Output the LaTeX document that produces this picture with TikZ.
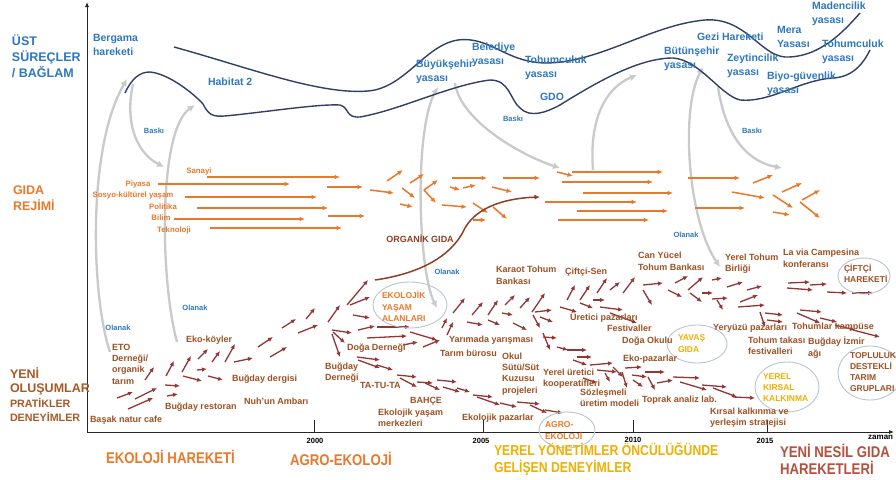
\documentclass[tikz,border=0pt]{standalone}
\usepackage{fontspec}
\setmainfont{Liberation Sans}
\newfontfamily\narrowf[FakeStretch=0.85]{Liberation Sans}
\usetikzlibrary{arrows.meta}
\definecolor{blueT}{HTML}{2E78BE}
\definecolor{navy}{HTML}{2F3F66}
\definecolor{orangeA}{HTML}{E9782B}
\definecolor{brownT}{HTML}{9E5124}
\definecolor{brownL}{HTML}{A85A26}
\definecolor{redA}{HTML}{943634}
\definecolor{goldT}{HTML}{F0B000}
\definecolor{greyA}{HTML}{CACACA}
\definecolor{ellC}{HTML}{B9C5CF}
\definecolor{newgen}{HTML}{B5503C}
\definecolor{orgT}{HTML}{8E3F26}
\begin{document}
\begin{tikzpicture}[x=1pt,y=-1pt,
  lbl/.style={inner sep=0pt,outer sep=0pt,align=left,anchor=west},
  toplbl/.style={lbl,text=blueT,font=\bfseries\fontsize{10.5}{14}\selectfont},
  side/.style={lbl,font=\bfseries\fontsize{12.5}{16}\selectfont},
  hint/.style={inner sep=0pt,text=blueT,font=\bfseries\fontsize{7.5}{9}\selectfont},
  regl/.style={inner sep=0pt,text=orangeA,font=\bfseries\fontsize{7.8}{9}\selectfont},
  pract/.style={lbl,text=brownT,font=\bfseries\fontsize{9}{11.3}\selectfont},
  cloud/.style={lbl,font=\bfseries\fontsize{8.5}{11.2}\selectfont},
  era/.style={lbl,font=\narrowf\bfseries\fontsize{15.5}{17}\selectfont},
  yr/.style={inner sep=0pt,font=\bfseries\fontsize{7.5}{8}\selectfont},
  rarr/.style={draw=redA,line width=1.3pt,-{Latex[length=5pt,width=4.5pt]}},
  oarr/.style={draw=orangeA,line width=1.5pt,-{Latex[length=5.5pt,width=4.8pt]}},
  garr/.style={draw=greyA,line width=2.3pt,-{Latex[length=7pt,width=7pt]}},
  garrb/.style={draw=greyA,line width=2.3pt,{Latex[length=7pt,width=7pt]}-{Latex[length=7pt,width=7pt]}},
  wave/.style={draw=navy,line width=1.4pt},
  ring/.style={draw=ellC,line width=0.9pt},
  axis/.style={draw=black!85,line width=0.8pt},
]
\useasboundingbox (0,0) rectangle (896,479);
\fill[white] (0,0) rectangle (896,479);

% ---------- grey influence arrows ----------
\draw[garr] (110,352) .. controls (92,300) and (86,150) .. (127,79);
\draw[garr] (133,84) .. controls (125,120) and (135,152) .. (164,167);
\draw[garr] (177,342) .. controls (160,280) and (158,130) .. (195,105);
\draw[garrb] (437,308) .. controls (418,270) and (414,130) .. (438,87);
\draw[garr] (455,83) .. controls (460,120) and (520,155) .. (560,168);
\draw[garr] (593,170) .. controls (589,120) and (605,88) .. (637,75);
\draw[garrb] (720,267) .. controls (688,220) and (680,110) .. (703,67);
\draw[garr] (718,87) .. controls (726,140) and (750,162) .. (782,168);

% ---------- axes ----------
\coordinate (origin) at (87,432);
\coordinate (ytop) at (87,2);
\coordinate (xend) at (894,432);
\draw[axis,-{Latex[length=5pt,width=4pt]}] (origin) -- (ytop);
\draw[axis,-{Latex[length=5pt,width=4pt]}] (origin) -- (xend);
\foreach \x in {314,483,633,767}{
  \draw[axis,line width=0.6pt] (\x,420) -- (\x,432);
}
\node[yr] (y2000) at (315,441) {2000};
\node[yr] (y2005) at (481,441) {2005};
\node[yr] (y2010) at (633,439.5) {2010};
\node[yr] (y2015) at (765,441) {2015};
\node[yr,anchor=west,font=\bfseries\fontsize{8}{9}\selectfont] (zaman) at (868,437) {zaman};

% ---------- upper context waves ----------
\draw[wave] (174,47) .. controls (250,68) and (320,95) .. (368,91)
  .. controls (405,88) and (425,45) .. (458,40)
  .. controls (490,36) and (505,62) .. (545,63)
  .. controls (600,63) and (650,25) .. (705,20)
  .. controls (745,17) and (760,55) .. (785,57)
  .. controls (820,58) and (845,30) .. (860,13);
\draw[wave] (125,93) .. controls (132,78) and (140,72) .. (150,72)
  .. controls (170,74) and (195,95) .. (203,104)
  .. controls (210,118) and (215,117) .. (235,115)
  .. controls (280,110) and (320,104) .. (340,105)
  .. controls (350,108) and (345,118) .. (360,117)
  .. controls (400,110) and (450,85) .. (490,80)
  .. controls (510,80) and (510,100) .. (520,108)
  .. controls (530,118) and (545,113) .. (560,105)
  .. controls (600,80) and (640,58) .. (673,58)
  .. controls (700,60) and (720,95) .. (740,100)
  .. controls (770,103) and (800,80) .. (833,78)
  .. controls (855,77) and (865,60) .. (870,50);

% ---------- food regime arrows ----------
\foreach \a/\b/\c/\d in {207/177/340/177,158/184/290/184,185/197/317/197,197/208/328/208,
  174/219/305/219,210/228/342/228,327/187/363/187,328/216/365/216,370/190/394/193,
  387/181/403/170,410/183/424/174,402/188/415/198,400/204/413/207,424/190/438/180,
  424/190/436/203,442/205/467/207,452/178/487/178,503/178/540/178,450/187/460/190,
  463/188/476/185,492/187/512/192,473/203/488/213,493/207/507/219,473/220/486/220,
  557/172/573/176,572/172/663/172,562/182/653/182,583/193/673/193,545/202/637/202,
  577/211/668/211,558/220/649/220,688/178/740/178,732/192/765/198,695/208/745/208,
  753/183/773/175,782/192/802/183,773/195/793/208,802/200/820/190,800/202/820/218,
  773/212/790/215}{
  \draw[oarr] (\a,\b) -- (\c,\d);
}

% ---------- organic food curve ----------
\draw[draw=orgT,line width=1.5pt,-{Latex[length=5.5pt,width=5pt]}] (375,280)
  .. controls (430,272) and (455,250) .. (465,228)
  .. controls (478,205) and (510,198) .. (540,197);

% ---------- new practices arrows ----------
\foreach \a/\b/\c/\d in {117/398/133/392,135/399/157/388,128/409/153/398,145/380/154/367,
  165/385/180/386,167/396/178/394,166/376/174/361,182/372/191/356,183/376/202/381,
  197/370/207/369,198/359/208/349,212/362/220/351,225/362/235/344,208/376/223/380,
  234/362/253/358,258/347/273/337,270/357/287/347,282/328/296/319,298/333/318/325,
  306/319/315/308,
  328/322/340/305,347/305/368/280,350/305/370/297,353/315/370/318,332/330/352/333,
  333/332/345/343,332/334/340/357,358/330/375/326,367/338/407/336,377/327/410/327,
  410/332/437/340,403/345/418/342,423/347/440/340,357/357/380/360,358/360/380/368,
  377/365/393/370,397/375/417/377,400/378/417/387,417/382/433/383,425/383/440/390,
  437/380/457/382,443/387/460/392,457/388/470/392,473/395/493/397,477/397/500/405,
  500/403/517/407,517/402/540/404,530/405/547/413,545/410/563/413,
  442/328/447/318,447/335/453/322,453/313/465/298,472/315/483/302,488/315/498/300,
  505/305/515/295,520/308/530/297,532/312/545/293,467/322/483/325,488/320/500/325,
  502/313/513/315,513/323/527/330,535/312/552/310,533/315/540/328,540/317/553/322,
  543/337/557/338,543/333/550/350,557/347/568/350,560/307/577/312,567/300/575/285,
  580/300/590/285,597/293/607/278,610/290/620/282,623/293/635/277,580/303/593/308,
  593/300/605/300,600/307/623/310,610/313/637/323,
  643/285/663/283,643/290/652/305,668/290/682/297,675/283/688/276,688/290/703/277,
  690/293/702/302,702/293/713/293,712/280/722/278,712/299/728/298,717/300/723/310,
  727/287/743/282,740/302/758/295,738/307/765/305,747/290/762/286,760/312/765/327,
  765/313/783/315,767/320/783/322,788/283/810/282,787/288/813/290,810/285/827/284,
  827/292/847/293,852/293/873/293,800/310/822/312,797/313/820/323,820/318/837/322,
  835/325/855/330,853/330/880/337,
  567/350/587/350,577/357/592/357,573/360/587/365,590/365/613/363,597/370/617/372,
  583/378/597/383,605/373/610/382,613/367/623/377,625/368/642/367,632/375/647/377,
  622/372/627/388,633/380/643/387,645/372/665/372,648/377/655/390,657/383/673/380,
  673/377/700/378,680/382/707/390,702/385/727/387,713/388/737/397,733/397/755/398}{
  \draw[rarr] (\a,\b) -- (\c,\d);
}

% ---------- ellipses ----------
\draw[ring] (410,305) ellipse [x radius=37,y radius=23];
\draw[ring] (567,430) ellipse [x radius=28,y radius=18];
\draw[ring] (697,344) ellipse [x radius=30,y radius=19];
\draw[ring] (787,387) ellipse [x radius=32,y radius=25];
\draw[ring] (864,276) ellipse [x radius=26,y radius=18];
\draw[ring] (870,373) ellipse [x radius=32,y radius=27];

% ---------- side titles ----------
\node[side,text=blueT] (ust) at (12,56) {ÜST\\SÜREÇLER\\/ BAĞLAM};
\node[side,text=orangeA] (gida) at (13,198) {GIDA\\REJİMİ};
\node[side,text=brownL] (yeni) at (10,373) {YENİ};
\node[side,text=brownL] (olus) at (10,389) {OLUŞUMLAR};
\node[lbl,text=brownL,font=\bfseries\fontsize{10.7}{13}\selectfont] (prat) at (10,403) {PRATİKLER};
\node[lbl,text=brownL,font=\bfseries\fontsize{10.7}{13}\selectfont] (deney) at (10,417) {DENEYİMLER};

% ---------- top context labels ----------
\node[toplbl] (bergama) at (93,45) {Bergama\\hareketi};
\node[toplbl] (habitat) at (208,82) {Habitat 2};
\node[toplbl] (buyuk) at (416,72) {Büyükşehir\\yasası};
\node[toplbl] (beled) at (472,55) {Belediye\\yasası};
\node[toplbl] (tohum1) at (525,67.5) {Tohumculuk\\yasası};
\node[toplbl] (gdo) at (540,97) {GDO};
\node[toplbl] (butun) at (664,58.5) {Bütünşehir\\yasası};
\node[toplbl] (gezi) at (697,37) {Gezi Hareketi};
\node[toplbl] (zeytin) at (727,65.5) {Zeytincilik\\yasası};
\node[toplbl] (mera) at (777,37) {Mera\\Yasası};
\node[toplbl] (maden) at (812,14) {Madencilik\\yasası};
\node[toplbl] (tohum2) at (822,52) {Tohumculuk\\yasası};
\node[toplbl] (biyo) at (767,83.5) {Biyo-güvenlik\\yasası};

\node[hint] (baski1) at (154,131) {Baskı};
\node[hint] (baski2) at (513,119) {Baskı};
\node[hint] (baski3) at (752,131) {Baskı};
\node[hint] (olanak1) at (118,328) {Olanak};
\node[hint] (olanak2) at (195,308) {Olanak};
\node[hint] (olanak3) at (447,272) {Olanak};
\node[hint] (olanak4) at (686,235) {Olanak};

% ---------- regime labels ----------
\node[regl] (sanayi) at (199,171) {Sanayi};
\node[regl] (piyasa) at (138,184) {Piyasa};
\node[regl] (sosyo) at (133,195) {Sosyo-kültürel yaşam};
\node[regl] (politika) at (163,207) {Politika};
\node[regl] (bilim) at (161,218) {Bilim};
\node[regl] (tekno) at (174,230) {Teknoloji};
\node[inner sep=0pt,text=orgT,font=\bfseries\fontsize{9}{11}\selectfont] (organik) at (420,239) {ORGANİK GIDA};

% ---------- practice labels ----------
\node[pract] (eto) at (112,364) {ETO\\Derneği/\\organik\\tarım};
\node[pract] (ekokoy) at (186,340) {Eko-köyler};
\node[pract] (bdergi) at (232,379) {Buğday dergisi};
\node[pract] (nuh) at (244,401) {Nuh'un Ambarı};
\node[pract] (brest) at (165,407) {Buğday restoran};
\node[pract] (basak) at (90,420) {Başak natur cafe};
\node[pract,font=\bfseries\fontsize{9}{12}\selectfont] (karaot) at (496,275) {Karaot Tohum\\Bankası};
\node[pract] (ciftcisen) at (565,272) {Çiftçi-Sen};
\node[pract] (yarimada) at (449,340) {Yarımada yarışması};
\node[pract] (tarimb) at (440,353) {Tarım bürosu};
\node[pract] (doga) at (347,348) {Doğa Derneği};
\node[pract] (bdernek) at (325,372.5) {Buğday\\Derneği};
\node[pract] (tatuta) at (360,385) {TA-TU-TA};
\node[pract] (bahce) at (410,401) {BAHÇE};
\node[pract,font=\bfseries\fontsize{9}{10.5}\selectfont] (ekoyasam) at (378,418) {Ekolojik yaşam\\merkezleri};
\node[pract] (okul) at (502,374) {Okul\\Sütü/Süt\\Kuzusu\\projeleri};
\node[pract] (ekopaz) at (462,418) {Ekolojik pazarlar};
\node[pract] (yerelu) at (543,378.5) {Yerel üretici\\kooperatifleri};
\node[pract] (uretici) at (570,318) {Üretici pazarları};
\node[pract] (festival) at (607,328) {Festivaller};
\node[pract] (sozles) at (580,397.5) {Sözleşmeli\\üretim modeli};
\node[pract,font=\bfseries\fontsize{9}{12}\selectfont] (canyucel) at (638,261) {Can Yücel\\Tohum Bankası};
\node[pract] (yerelt) at (725,263.5) {Yerel Tohum\\Birliği};
\node[pract,font=\bfseries\fontsize{9}{12}\selectfont] (lavia) at (783,258) {La via Campesina\\konferansı};
\node[pract] (dogaokul) at (622,341) {Doğa Okulu};
\node[pract] (ekopazar) at (623,359) {Eko-pazarlar};
\node[pract] (yeryuzu) at (713,328) {Yeryüzü pazarları};
\node[pract] (tkampus) at (792,327) {Tohumlar kampüse};
\node[pract] (ttakas) at (748,345.5) {Tohum takası\\festivalleri};
\node[pract] (bizmir) at (808,347.5) {Buğday İzmir\\ağı};
\node[pract] (toprak) at (642,400) {Toprak analiz lab.};
\node[pract] (kirsal) at (710,417.5) {Kırsal kalkınma ve\\yerleşim stratejisi};

% ---------- cloud labels ----------
\node[cloud,text=orangeA] (ekoyal) at (382,306.5) {EKOLOJİK\\YAŞAM\\ALANLARI};
\node[cloud,text=orangeA] (agro) at (545,430.5) {AGRO-\\EKOLOJİ};
\node[cloud,text=goldT] (yavas) at (678,343.5) {YAVAŞ\\GIDA};
\node[cloud,text=goldT,font=\bfseries\fontsize{8.5}{10.8}\selectfont] (ykk) at (763,387.5) {YEREL\\KIRSAL\\KALKINMA};
\node[cloud,text=brownT] (ciftci) at (844,273.5) {ÇİFTÇİ\\HAREKETİ};
\node[cloud,text=brownT] (toplu) at (850,372) {TOPLULUK\\DESTEKLİ\\TARIM\\GRUPLARI};

% ---------- era labels ----------
\node[era,text=orangeA] (ekoh) at (106,457) {EKOLOJİ HAREKETİ};
\node[era,text=orangeA] (agroh) at (290,459) {AGRO-EKOLOJİ};
\node[era,text=goldT,font=\narrowf\bfseries\fontsize{14.4}{17}\selectfont] (yerely) at (494,459.5) {YEREL YÖNETİMLER ÖNCÜLÜĞÜNDE\\GELİŞEN DENEYİMLER};
\node[era,text=newgen] (nesil) at (780,459) {YENİ NESİL GIDA\\HAREKETLERİ};
\end{tikzpicture}
\end{document}
